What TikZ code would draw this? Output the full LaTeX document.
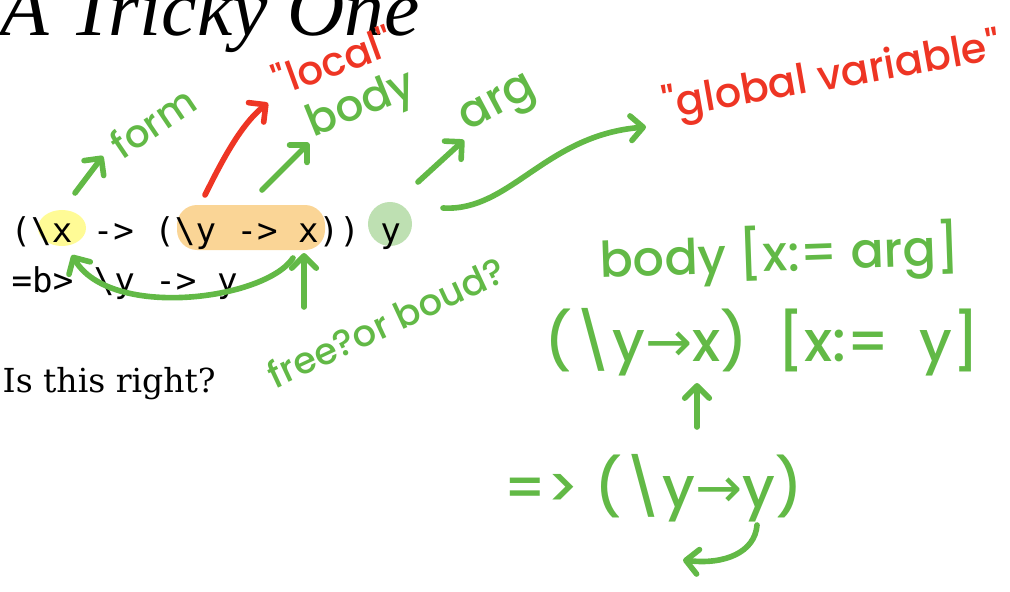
\documentclass[tikz,border=0pt]{standalone}
\usepackage{fontspec}
\usepackage{tikz}
\usetikzlibrary{arrows.meta}
\setmainfont{DejaVu Serif}
\newfontfamily\titlefont{Liberation Serif}
\newfontfamily\codefont{DejaVu Sans Mono}
\newfontfamily\hand{Poppins}[UprightFont={* Medium}]
\newfontfamily\symfont{DejaVu Sans}
\definecolor{inkGreen}{HTML}{62B946}
\definecolor{inkRed}{HTML}{EE3524}
\definecolor{hlYellow}{HTML}{FFFB96}
\definecolor{hlOrange}{HTML}{FAD596}
\definecolor{hlGreen}{HTML}{BEE0B2}
\newcommand{\bs}{\textbackslash}
\newcommand{\ra}{{\symfont →}}
\tikzset{
  title/.style={font=\titlefont\itshape\fontsize{22.6}{24}\selectfont,anchor=base west,inner sep=0pt},
  code/.style={font=\codefont\fontsize{9.7}{12}\selectfont,anchor=base west,inner sep=0pt},
  prose/.style={font=\fontsize{9.4}{11}\selectfont,anchor=base west,inner sep=0pt},
  hw/.style={font=\hand\fontsize{#1}{#1}\selectfont,text=inkGreen,inner sep=0pt},
  hw/.default=12,
  hwred/.style={hw=#1,text=inkRed},
  hwred/.default=12,
  garr/.style={draw=inkGreen,line width=1.6pt,line cap=round,
               -{Straight Barb[length=3.5pt,width=7pt,round]}},
  rarr/.style={garr,draw=inkRed},
}
\begin{document}
\begin{tikzpicture}[x=0.01cm,y=-0.01cm]
    \useasboundingbox (0,0) rectangle (1010,591);
    % --- highlights behind the code
    \fill[hlYellow] (62,228) ellipse [x radius=0.24cm,y radius=0.18cm];
    \fill[hlOrange,rounded corners=0.2cm] (177,205) rectangle (325,250);
    \fill[hlGreen] (390,224) circle [radius=0.22cm];
    % --- slide text
    \node[title] (title)    at (0,36)   {A Tricky One};
    \node[code]  (redex)    at (10,242) {(\bs x -> (\bs y -> x)) y};
    \node[code]  (reduct)   at (11,292) {=b> \bs y -> y};
    \node[prose] (question) at (2,392)  {Is this right?};
    % --- notes on the redex
    \node[hw=11,rotate=34]    (form)   at (153,122) {form};
    \node[hwred=11.5,rotate=20] (local) at (333,60) {"local"};
    \node[hw=12.5,rotate=22]  (body)   at (362,106) {body};
    \node[hw=13,rotate=28]    (arg)    at (500,107) {arg};
    \node[hwred=11.8,rotate=10] (global) at (832,78) {"global variable"};
    \node[hw=10.5,rotate=25]  (freeq)  at (386,322) {free?or boud?};
    % --- working on the right
    \node[hw=14,rotate=2] (subst)   at (780,255) {body [x:= arg]};
    \node[hw=16]          (applied) at (762,342) {(\bs y\ra x) \ [x:= \ y]};
    \node[hw=16]          (result)  at (653,488) {=> (\bs y\ra y)};

    \coordinate (formTail)   at (75,193);  \coordinate (formTip)   at (103,156);
    \coordinate (localTail)  at (205,195); \coordinate (localTip)  at (268,103);
    \coordinate (bodyTail)   at (262,190); \coordinate (bodyTip)   at (309,143);
    \coordinate (argTail)    at (418,182); \coordinate (argTip)    at (464,140);
    \coordinate (globalTail) at (443,208); \coordinate (globalTip) at (646,127);
    \coordinate (boundTail)  at (293,258); \coordinate (boundTip)  at (72,255);
    \coordinate (freeTail)   at (304,307); \coordinate (freeTip)   at (304,253);
    \coordinate (substTail)  at (697,427); \coordinate (substTip)  at (697,383);
    \coordinate (loopTail)   at (757,525); \coordinate (loopTip)   at (683,560);

    \draw[garr] (formTail) -- (formTip);
    \draw[rarr] (localTail) .. controls (220,165) and (240,125) .. (localTip);
    \draw[garr] (bodyTail) -- (bodyTip);
    \draw[garr] (argTail) -- (argTip);
    \draw[garr] (globalTail) .. controls (510,212) and (545,135) .. (globalTip);
    \draw[garr] (boundTail) .. controls (265,300) and (110,320) .. (boundTip);
    \draw[garr] (freeTail) -- (freeTip);
    \draw[garr] (substTail) -- (substTip);
    \draw[garr] (loopTail) .. controls (755,552) and (725,565) .. (loopTip);
\end{tikzpicture}
\end{document}
